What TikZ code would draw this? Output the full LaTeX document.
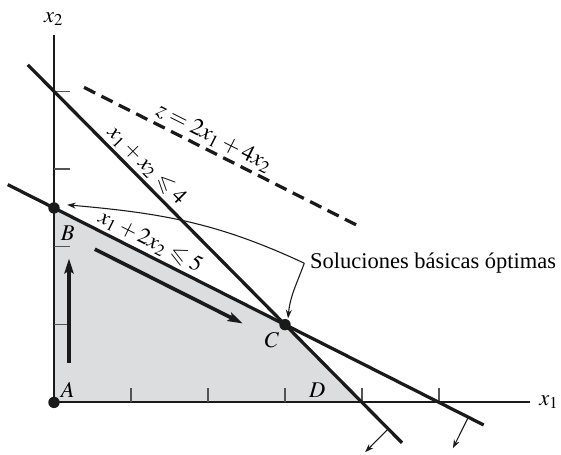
\documentclass[tikz,border=0pt]{standalone}
\usepackage{amsmath,amssymb}
\usepackage{mathptmx}
\usepackage{fontspec}
\setmainfont{Liberation Serif}
\usetikzlibrary{arrows.meta,calc}
\definecolor{Ink}{HTML}{1A1A1A}
\definecolor{Region}{HTML}{DCDDDF}
\tikzset{
  axis/.style={draw=Ink,line width=.75pt},
  tickmark/.style={draw=Ink!75,line width=.45pt},
  bound/.style={draw=Ink,line width=1.2pt},
  objline/.style={draw=Ink,line width=1.2pt,dash pattern=on 4.6pt off 2.6pt},
  moveline/.style={-{Stealth[length=5.5pt,width=3.4pt,inset=1pt]},draw=Ink,line width=1.35pt},
  callout/.style={-{Stealth[length=3.2pt,width=2.2pt]},draw=Ink,line width=.4pt},
  vertex/.style={circle,fill=Ink,inner sep=0pt,minimum size=4.2pt},
  vlabel/.style={inner sep=0pt},
  eqlabel/.style={inner sep=1pt,sloped,above}
}

\begin{document}
\begin{tikzpicture}[x=1cm,y=1.01cm,font=\fontsize{8.3}{10}\selectfont]
      \useasboundingbox (-0.701,-0.669) rectangle (6.584,5.174);
      \coordinate (A) at (0,0);
      \coordinate (B) at (0,2.5);
      \coordinate (C) at (3,1);
      \coordinate (D) at (4,0);
      % feasible region
      \fill[Region] (A) -- (B) -- (C) -- (D) -- cycle;
      % axes and ticks
      \coordinate (xend) at (6.18,0);
      \coordinate (yend) at (0,4.72);
      \draw[axis] (A) -- (xend);
      \draw[axis] (A) -- (yend);
      \node[anchor=west] (xlab) at (xend) {$x_1$};
      \node[anchor=south] (ylab) at (yend) {$x_2$};
      \foreach \i in {1,...,5} \draw[tickmark] (\i,0) -- (\i,0.19);
      \foreach \j in {1,...,4} \draw[tickmark] (0,\j) -- (0.21,\j);
      % constraints and objective
      \coordinate (LaS) at (-0.34,4.34);
      \coordinate (LaE) at (4.52,-0.52);
      \coordinate (LbS) at (-0.6,2.8);
      \coordinate (LbE) at (5.58,-0.29);
      \coordinate (ZS) at (0.39,4.05);
      \coordinate (ZE) at (3.97,2.26);
      \draw[bound] (LaS) -- node[eqlabel,pos=.292] (laLab) {$x_1 + x_2 \leqslant 4$} (LaE);
      \draw[bound] (LbS) -- node[eqlabel,pos=.287] (lbLab) {$x_1 + 2x_2 \leqslant 5$} (LbE);
      \draw[objline] (ZS) -- node[eqlabel,pos=.45,font=\fontsize{8.7}{10}\selectfont] (zLab) {$z = 2x_1 + 4x_2$} (ZE);
      % path of the simplex
      \coordinate (up0) at (0.195,0.51);
      \coordinate (up1) at (0.195,1.85);
      \coordinate (dg0) at (0.53,1.97);
      \coordinate (dg1) at (2.45,1.015);
      \draw[moveline] (up0) -- (up1);
      \draw[moveline] (dg0) -- (dg1);
      % normals
      \coordinate (na0) at (4.34,-0.34);
      \coordinate (na1) at (4.04,-0.64);
      \coordinate (nb0) at (5.38,-0.19);
      \coordinate (nb1) at (5.18,-0.59);
      \draw[callout] (na0) -- (na1);
      \draw[callout] (nb0) -- (nb1);
      % corner points
      \node[vertex] (vA) at (A) {};
      \node[vertex] (vB) at (B) {};
      \node[vertex] (vC) at (C) {};
      \node[vlabel] (lA) at (0.18,0.155) {$A$};
      \node[vlabel] (lB) at (0.18,2.175) {$B$};
      \node[vlabel] (lC) at (2.83,0.80) {$C$};
      \node[vlabel] (lD) at (3.42,0.155) {$D$};
      % optimal solutions
      \node[anchor=west,inner sep=2pt] (sol) at (3.25,1.79) {Soluciones básicas óptimas};
      \coordinate (tipB) at (0.17,2.54);
      \coordinate (tipC) at (3.04,1.08);
      \draw[callout] (sol.west) to[out=155,in=-5] (tipB);
      \draw[callout] (sol.west) to[out=250,in=85] (tipC);
    \end{tikzpicture}
\end{document}
